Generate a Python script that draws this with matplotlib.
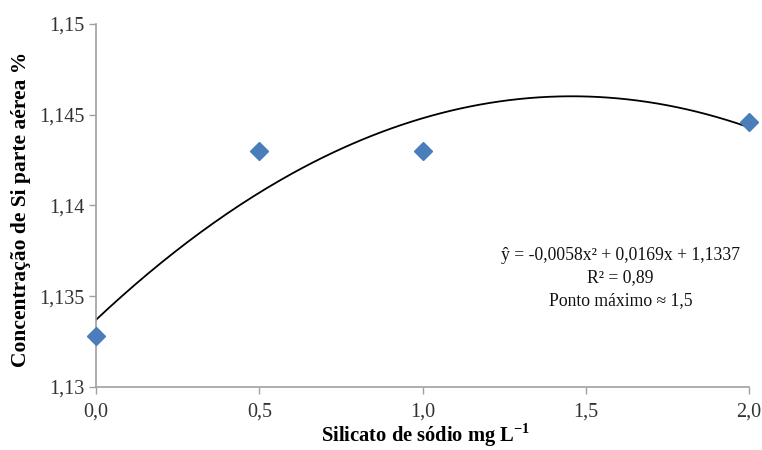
import numpy as np
import matplotlib
matplotlib.use("Agg")
import matplotlib.pyplot as plt
from matplotlib.ticker import FuncFormatter

# observed points
dose = [0.0, 0.5, 1.0, 2.0]
si_conc = [1.1328, 1.143, 1.143, 1.1446]

# fitted quadratic (a x^2 + b x + c), as printed on the chart
coef = [-0.0058, 0.0169, 1.1337]
eq_lines = ["ŷ = -0,0058x² + 0,0169x + 1,1337", "R² = 0,89", "Ponto máximo ≈ 1,5"]

x_ticks = [0.0, 0.5, 1.0, 1.5, 2.0]
y_ticks = [1.13, 1.135, 1.14, 1.145, 1.15]

plt.rcParams["font.family"] = ["Liberation Serif", "DejaVu Serif"]

fig = plt.figure(figsize=(7.62, 4.5), dpi=100)
ax = fig.add_axes([0.126, 0.14, 0.857, 0.807])

xs = np.linspace(0, 2, 200)
ax.plot(xs, np.polyval(coef, xs), color="black", lw=1.3, zorder=2)
ax.plot(dose, si_conc, ls="none", marker="D", ms=9, color="#4a7ebb", zorder=3, clip_on=False)

ax.set_xlim(0, 2)
ax.set_ylim(1.13, 1.15)
ax.set_xticks(x_ticks)
ax.set_yticks(y_ticks)
ax.xaxis.set_major_formatter(FuncFormatter(lambda v, p: f"{v:.1f}".replace(".", ",")))
ax.yaxis.set_major_formatter(FuncFormatter(lambda v, p: f"{v:g}".replace(".", ",")))
ax.tick_params(axis="both", labelsize=14.5, length=5, width=1, labelcolor="#333333", color="#a0a0a0")
ax.tick_params(axis="x", pad=6)
ax.tick_params(axis="y", pad=3)

for s in ("top", "right"):
    ax.spines[s].set_visible(False)
for s in ("left", "bottom"):
    ax.spines[s].set_color("#a0a0a0")
    ax.spines[s].set_linewidth(1.2)

ax.set_xlabel("Silicato de sódio mg L$^{\\mathregular{-1}}$", fontsize=14.8, fontweight="bold", va="center")
ax.xaxis.set_label_coords(0.505, -0.132)
ax.set_ylabel("Concentração de Si parte aérea %", fontsize=15.5, fontweight="bold", va="center")
ax.yaxis.set_label_coords(-0.115, 0.49)

ax.text(1.607, 1.136, "\n".join(eq_lines), ha="center", va="center", fontsize=12.7,
        linespacing=1.4, color="#111111")

fig.savefig("out.png", dpi=100)
